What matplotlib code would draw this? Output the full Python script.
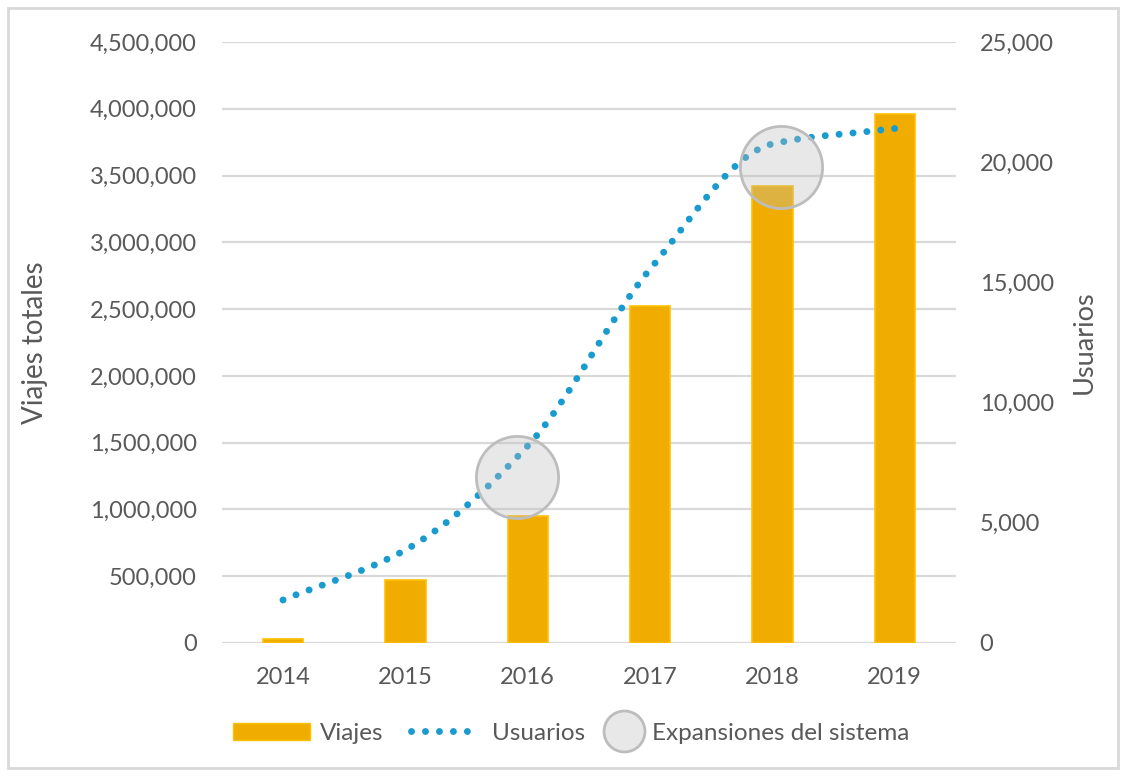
import matplotlib.pyplot as plt
import numpy as np
from matplotlib.path import Path
from matplotlib.patches import PathPatch, Patch, Rectangle
from matplotlib.lines import Line2D
from matplotlib.ticker import FuncFormatter, MultipleLocator

plt.rcParams['font.family'] = ['Lato', 'DejaVu Sans']

years = ["2014", "2015", "2016", "2017", "2018", "2019"]
viajes = [30000, 472000, 950000, 2520000, 3420000, 3960000]
usuarios = [1790, 3870, 8200, 15550, 20760, 21400]
# highlighted expansions: (category position, usuarios level)
expansion_x = [1.91, 4.07]
expansion_y = [6900, 19800]

bar_color = "#f0ad00"
line_color = "#1a9bcf"
text_color = "#595959"
grid_color = "#d9d9d9"
circle_fill = (0.737, 0.737, 0.737, 0.34)

fig = plt.figure(figsize=(11.26, 7.76), dpi=100)
ax = fig.add_axes([0.197, 0.1714, 0.652, 0.7745])
ax2 = ax.twinx()

x = np.arange(len(years))
ax.bar(x, viajes, width=0.33, color=bar_color, edgecolor="#ffc000", linewidth=1.2, zorder=2)
ax.set_xlim(-0.5, len(years) - 0.5)
ax.set_ylim(0, 4500000)
ax.yaxis.set_major_locator(MultipleLocator(500000))
ax.yaxis.set_major_formatter(FuncFormatter(lambda v, p: f"{int(v):,}"))
ax.set_xticks(x)
ax.set_xticklabels(years)
ax.grid(axis="y", color=grid_color, linewidth=1.6, zorder=0)
ax.set_axisbelow(True)
for s in ax.spines.values():
    s.set_visible(False)
for s in ax2.spines.values():
    s.set_visible(False)
ax.tick_params(axis="both", length=0, labelsize=17, colors=text_color)
ax.tick_params(axis="y", pad=18)
ax.tick_params(axis="x", pad=17)

ax2.set_ylim(0, 25000)
ax2.yaxis.set_major_locator(MultipleLocator(5000))
ax2.yaxis.set_major_formatter(FuncFormatter(lambda v, p: f"{int(v):,}"))
ax2.tick_params(axis="y", length=0, labelsize=17, colors=text_color, pad=17)

# smoothed user curve: cubic Bezier through the points, monotone tangents
u = np.array(usuarios, dtype=float)
d = np.diff(u)
m = np.empty_like(u)
m[0], m[-1] = d[0], d[-1]
for i in range(1, len(u) - 1):
    m[i] = 2 * d[i - 1] * d[i] / (d[i - 1] + d[i]) if d[i - 1] * d[i] > 0 else 0.0
verts = [(x[0], u[0])]
codes = [Path.MOVETO]
for i in range(len(u) - 1):
    verts += [(x[i] + 1 / 3, u[i] + m[i] / 3), (x[i + 1] - 1 / 3, u[i + 1] - m[i + 1] / 3),
              (x[i + 1], u[i + 1])]
    codes += [Path.CURVE4] * 3
curve = PathPatch(Path(verts, codes), facecolor="none", edgecolor=line_color,
                  linewidth=5.0, linestyle=(0, (0.01, 2.0)), capstyle="round", zorder=3)
ax2.add_patch(curve)

ax2.scatter(expansion_x, expansion_y, s=3500, facecolor=[circle_fill], edgecolor="#bdbdbd",
            linewidth=2, zorder=4)
ax2.set_xlim(-0.5, len(years) - 0.5)

ax.set_ylabel("Viajes totales", fontsize=20, color=text_color)
ax.yaxis.set_label_coords(-0.237, 0.5)
ax2.set_ylabel("Usuarios", fontsize=19.5, color=text_color, rotation=90)
ax2.yaxis.set_label_coords(1.158, 0.5)

# legend: three single-entry legends so each handle gets its own width
bar_handle = Patch(facecolor=bar_color, edgecolor="#ffc000")
line_handle = Line2D([0], [0], color=line_color, linewidth=5.0, linestyle=(0, (0.01, 2.0)),
                     dash_capstyle="round")
circle_handle = Line2D([0], [0], linestyle="none", marker="o", markersize=29.5,
                       markerfacecolor="#e8e8e8", markeredgecolor="#bdbdbd", markeredgewidth=2)
legend_items = [
    (bar_handle, "Viajes", 0.2069, 3.17, 0.41),
    (line_handle, "Usuarios", 0.365, 2.5, 0.82),
    (circle_handle, "Expansiones del sistema", 0.5355, 1.73, 0.29),
]
for h, lab, lx, hl, tp in legend_items:
    leg = fig.legend([h], [lab], loc="center left", bbox_to_anchor=(lx, 0.055),
                     frameon=False, fontsize=17.5, labelcolor=text_color, handlelength=hl,
                     handletextpad=tp, borderpad=0, borderaxespad=0)

fig.patches.append(Rectangle((0.007, 0.01), 0.986, 0.98, transform=fig.transFigure,
                             fill=False, edgecolor=grid_color, linewidth=2))

fig.savefig("out.png", dpi=100)
